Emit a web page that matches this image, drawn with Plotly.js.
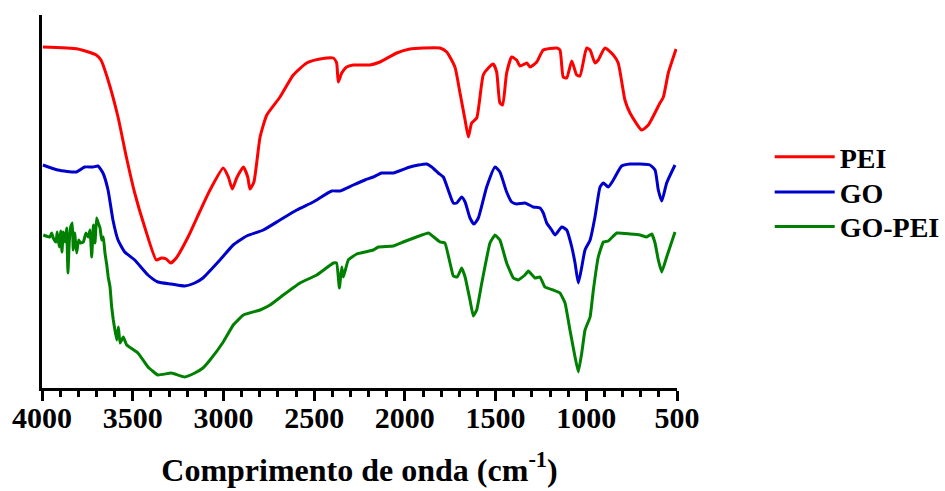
<!DOCTYPE html>
<html>
<head>
<meta charset="utf-8">
<script src="https://cdn.plot.ly/plotly-3.0.1.min.js"></script>
<style>html,body{margin:0;padding:0;background:#fff;}#chart{width:945px;height:491px;}</style>
</head>
<body>
<div id="chart"></div>
<script>
// Wavenumbers (cm-1) and transmittance (arbitrary, offset units)
const peiX = [3995,3802,3701,3675,3636,3581,3535,3489,3434,3370,3342,3315,3291,3260,3195,3129,3074,3001,2973,2951,2927,2890,2866,2854,2832,2798,2761,2688,2615,2541,2468,2394,2376,2367,2348,2321,2284,2220,2192,2137,2045,1972,1898,1806,1769,1724,1696,1668,1650,1632,1604,1568,1540,1513,1494,1476,1461,1439,1411,1384,1365,1328,1310,1273,1237,1163,1145,1127,1108,1080,1053,1035,998,979,952,934,897,851,824,787,759,695,658,594,575,548,505];
const peiY = [339,337,331,326,306,269,229,193,159,126,128,127,123,128,149,175,196,218,209,197,208,219,209,197,204,249,271,289,311,323,327,328,323,304,313,319,321,321,321,324,333,337,338,338,334,319,293,266,249,263,268,311,318,322,314,283,281,313,329,326,320,323,319,324,336,338,336,309,308,325,311,310,338,336,323,326,338,331,323,286,273,256,261,283,289,313,337];

const goX = [3995,3913,3811,3765,3719,3691,3664,3636,3609,3581,3544,3489,3416,3361,3287,3213,3158,3113,3019,2946,2872,2780,2688,2596,2505,2403,2357,2284,2220,2174,2128,2064,1972,1880,1852,1816,1788,1761,1733,1714,1687,1668,1641,1619,1595,1549,1503,1476,1439,1411,1384,1338,1292,1255,1237,1218,1191,1172,1135,1108,1080,1062,1044,1025,1007,979,952,924,906,879,851,805,759,649,621,603,584,557,511];
const goY = [221,216,214,219,219,220,213,196,166,146,134,126,111,104,102,100,103,108,126,141,150,156,166,176,184,195,195,201,206,209,213,213,219,222,219,213,209,196,183,183,189,184,168,162,168,199,219,214,194,184,182,183,179,178,173,163,156,151,159,156,139,123,103,119,136,146,169,199,203,199,206,220,222,221,216,196,185,203,221];

const gopeiX = [3993,3956,3947,3938,3923,3916,3905,3897,3890,3883,3873,3864,3857,3850,3842,3833,3828,3820,3809,3798,3787,3772,3758,3745,3735,3726,3717,3708,3699,3690,3680,3671,3662,3653,3643,3635,3625,3616,3607,3598,3588,3579,3570,3552,3533,3471,3416,3361,3287,3213,3158,3113,3074,3001,2946,2890,2798,2743,2670,2578,2486,2394,2376,2361,2348,2339,2312,2265,2220,2174,2146,2064,2009,1936,1870,1834,1806,1779,1751,1733,1711,1687,1668,1641,1623,1604,1576,1531,1503,1476,1439,1402,1375,1338,1319,1283,1255,1228,1182,1145,1117,1090,1062,1044,1025,1007,979,961,934,906,879,832,759,704,667,639,621,603,584,557,511];
const gopeiY = [151,149,153,148,144,154,139,155,134,154,144,158,113,143,159,163,136,153,133,146,143,144,153,149,156,129,161,143,168,163,158,146,149,133,121,109,99,79,66,56,46,59,43,49,41,33,19,11,13,9,13,18,26,44,61,71,76,81,91,103,111,123,123,98,119,109,126,132,134,136,139,140,144,149,153,148,144,143,123,110,109,118,109,86,70,76,103,143,151,146,123,108,106,111,115,108,109,99,96,93,83,56,29,14,33,56,69,96,129,144,145,153,152,151,149,152,143,126,114,129,154];

const seriesNames = ['PEI','GO','GO-PEI'];
const xTickVals = [4000,3500,3000,2500,2000,1500,1000,500];
const xTickText = ['4000','3500','3000','2500','2000','1500','1000','500'];

const serif = 'Liberation Serif';

const traces = [
  {x: peiX, y: peiY, name: seriesNames[0], legend: 'legend', mode: 'lines', line: {color: '#ff0000', width: 3, shape: 'spline', smoothing: 0.5}},
  {x: goX, y: goY, name: seriesNames[1], legend: 'legend2', mode: 'lines', line: {color: '#0000cc', width: 3, shape: 'spline', smoothing: 0.5}},
  {x: gopeiX, y: gopeiY, name: seriesNames[2], legend: 'legend3', mode: 'lines', line: {color: '#008000', width: 3, shape: 'spline', smoothing: 0.3}}
];

const legFont = {family: serif, size: 28, weight: 'bold', color: '#000'};
function leg(y) {
  return {x: 1.146, y: y, xanchor: 'left', yanchor: 'middle', font: legFont, itemwidth: 60, bgcolor: 'rgba(0,0,0,0)', borderwidth: 0};
}

const layout = {
  width: 945, height: 491,
  margin: {l: 42, r: 268, t: 15, b: 103, autoexpand: false},
  paper_bgcolor: '#ffffff', plot_bgcolor: '#ffffff',
  font: {family: serif, color: '#000', size: 28, weight: 'bold'},
  showlegend: true,
  legend: leg(0.619),
  legend2: leg(0.525),
  legend3: leg(0.432),
  xaxis: {
    range: [4000, 500], autorange: false,
    tickmode: 'array', tickvals: xTickVals, ticktext: xTickText,
    ticks: 'outside', ticklen: 10, tickwidth: 3, tickcolor: '#000',
    minor: {dtick: 100, ticks: 'outside', ticklen: 6, tickwidth: 3, tickcolor: '#000', showgrid: false},
    showline: true, linewidth: 3, linecolor: '#000', mirror: false,
    showgrid: false, zeroline: false,
    ticklabelstandoff: -9,
    tickfont: {family: serif, size: 30, weight: 'bold', color: '#000'},
    title: {text: 'Comprimento de onda (cm<sup>-1</sup>)', font: {family: serif, size: 32, weight: 'bold', color: '#000'}, standoff: 26}
  },
  yaxis: {
    range: [-2, 371], autorange: false,
    showline: true, linewidth: 3, linecolor: '#000',
    showticklabels: false, ticks: '', showgrid: false, zeroline: false
  }
};

Plotly.newPlot('chart', traces, layout, {displayModeBar: false, staticPlot: true});
</script>
</body>
</html>
